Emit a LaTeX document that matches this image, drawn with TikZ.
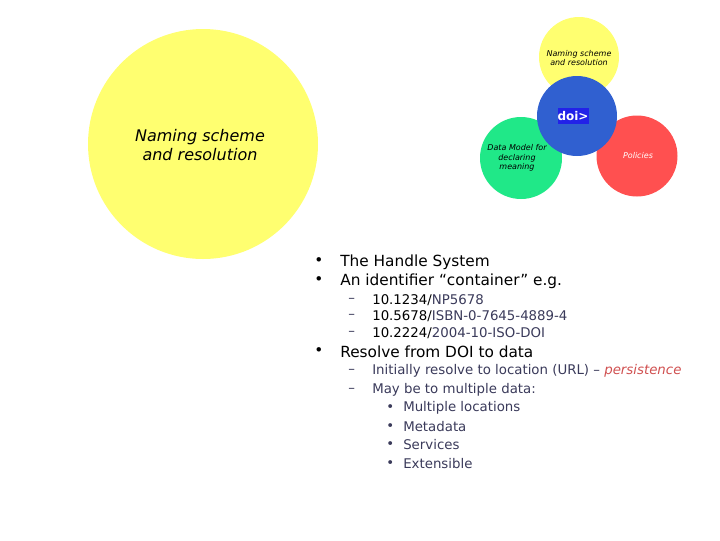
\documentclass[tikz,border=0pt]{standalone}
\usepackage{fontspec}
\setmainfont{DejaVu Sans}
\definecolor{yel}{HTML}{FFFF70}
\definecolor{grn}{HTML}{20E888}
\definecolor{rd}{HTML}{FF5050}
\definecolor{blu}{HTML}{3060D0}
\definecolor{dblu}{HTML}{2222E8}
\definecolor{sub}{HTML}{3A3A5A}
\definecolor{pers}{HTML}{D05050}
\tikzset{
  circ/.style={circle,inner sep=0pt},
  lbl/.style={font=\fontsize{6}{7}\selectfont\itshape,align=center},
  l1/.style={anchor=west,font=\fontsize{11.5}{13}\selectfont,inner sep=0pt},
  l2/.style={anchor=west,font=\fontsize{10}{12}\selectfont,text=sub,inner sep=0pt},
  l3/.style={anchor=west,font=\fontsize{10}{12}\selectfont,text=sub,inner sep=0pt}
}
\begin{document}
\begin{tikzpicture}[x=0.75pt,y=-0.75pt]
\useasboundingbox (0,0) rectangle (720,540);
\node[circ,fill=yel,minimum size=230*0.75pt] (big) at (203,144) {};
\node[font=\fontsize{12}{14}\selectfont\itshape,align=center] (bigl) at (200,145) {Naming scheme\\ and resolution};
\node[circ,fill=yel,minimum size=80*0.75pt] (y) at (579,57) {};
\node[circ,fill=grn,minimum size=82*0.75pt] (g) at (521,158) {};
\node[circ,fill=rd,minimum size=81*0.75pt] (r) at (637,156) {};
\node[lbl] (yl) at (579,58) {Naming scheme\\and resolution};
\node[lbl] (gl) at (517,158) {Data Model for\\declaring\\meaning};
\node[lbl,text=white] (rl) at (638,156) {Policies};
\node[circ,fill=blu,minimum size=80*0.75pt] (b) at (577,116) {};
\node[fill=dblu,text=white,font=\fontsize{9}{10}\selectfont\bfseries\rmfamily,minimum width=29*0.75pt,minimum height=16*0.75pt,inner sep=0pt] (doi) at (573,116) {doi>};
\node[l1] (b1) at (314,262) {•};
\node[l1] (t1) at (340,262) {The Handle System};
\node[l1] (b2) at (314,281) {•};
\node[l1] (t2) at (340,281) {An identifier “container” e.g.};
\node[l2] (d1) at (348,300) {–};
\node[l2] (e1) at (372,300) {\color{black}10.1234/\color{sub}NP5678};
\node[l2] (d2) at (348,316) {–};
\node[l2] (e2) at (372,316) {\color{black}10.5678/\color{sub}ISBN-0-7645-4889-4};
\node[l2] (d3) at (348,333) {–};
\node[l2] (e3) at (372,333) {\color{black}10.2224/\color{sub}2004-10-ISO-DOI};
\node[l1] (b3) at (314,352) {•};
\node[l1] (t3) at (340,352) {Resolve from DOI to data};
\node[l2] (d4) at (348,371) {–};
\node[l2] (e4) at (372,371) {Initially resolve to location (URL) – \textcolor{pers}{\itshape persistence}};
\node[l2] (d5) at (348,390) {–};
\node[l2] (e5) at (372,390) {May be to multiple data:};
\node[l3] (c1) at (386,408) {•};
\node[l3] (f1) at (403,408) {Multiple locations};
\node[l3] (c2) at (386,427) {•};
\node[l3] (f2) at (403,427) {Metadata};
\node[l3] (c3) at (386,445) {•};
\node[l3] (f3) at (403,445) {Services};
\node[l3] (c4) at (386,464) {•};
\node[l3] (f4) at (403,464) {Extensible};
\end{tikzpicture}
\end{document}
